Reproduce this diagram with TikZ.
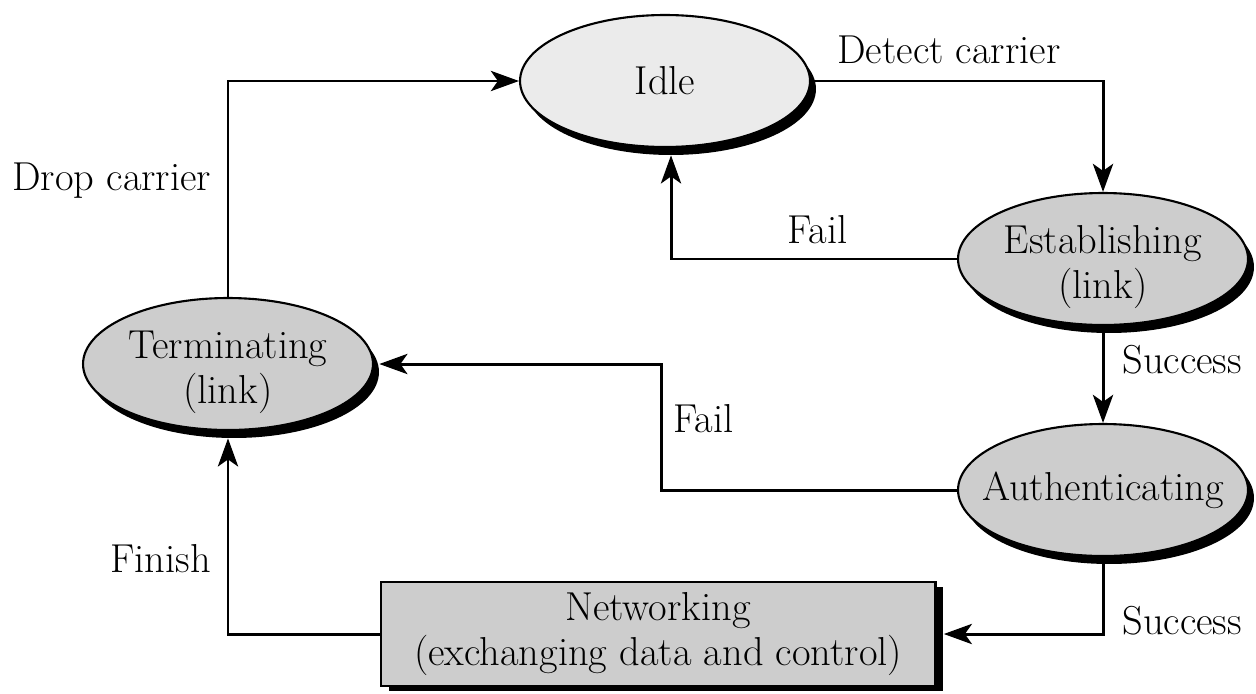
\documentclass[tikz,border=0pt]{standalone}
\usetikzlibrary{shapes.geometric,arrows.meta}
\definecolor{idlegray}{HTML}{EBEBEB}
\definecolor{stategray}{HTML}{CDCDCD}
\newcommand\zw[1]{\makebox[0pt]{#1}}
\newcommand\lowerstrut{\rule{0pt}{25pt}}
\begin{document}
\begin{tikzpicture}[x=0.02cm,y=-0.02cm,
  font=\fontsize{23}{26}\selectfont,
  state/.style={ellipse, draw=black, line width=1.2pt, fill=stategray,
    minimum width=5.8cm, minimum height=2.64cm, inner xsep=0pt, inner ysep=-10pt, align=center},
  stateshadow/.style={ellipse, fill=black, minimum width=5.8cm,
    minimum height=2.64cm, inner sep=0pt},
  boxnode/.style={rectangle, draw=black, line width=1.2pt, fill=stategray,
    minimum width=11.1cm, minimum height=2.08cm, inner sep=0pt, align=center},
  boxshadow/.style={rectangle, fill=black, minimum width=11.1cm,
    minimum height=2.08cm, inner sep=0pt},
  conn/.style={line width=1.7pt, -{Stealth[length=16pt,width=11.5pt,inset=4pt]}},
  lbl/.style={anchor=base west, inner sep=0pt}
]
\useasboundingbox (0,0) rectangle (1256,693);
\fill[white] (0,0) rectangle (1256,693);

% shadows
\node[stateshadow] (idleS)  at (671,89)  {};
\node[stateshadow] (estabS) at (1109,267) {};
\node[stateshadow] (authS)  at (1109,498) {};
\node[stateshadow] (termS)  at (234,372) {};
\node[boxshadow]   (netS)   at (666,639) {};

% states
\node[state, fill=idlegray] (idle) at (665,81) {\zw{Idle}};
\node[state] (estab) at (1103,259) {\lowerstrut\zw{Establishing}\\\zw{(link)}};
\node[state] (auth)  at (1103,490) {\zw{Authenticating}};
\node[state] (term)  at (228,364)  {\lowerstrut\zw{Terminating}\\\zw{(link)}};
\node[boxnode] (net) at (658,634) {Networking\\(exchanging data and control)};

% connectors
\draw[conn] (idle.east) -| (estab.north);
\draw[conn] (estab.west) -| (idleS.south);
\draw[conn] (estabS.south -| estab.south) -- (auth.north);
\draw[conn] (auth.west) -- (661,490) |- (term.east -| termS.east);
\draw[conn] (authS.south -| auth.south) |- (net.east -| netS.east);
\draw[conn] (net.west) -| (term.south |- termS.south);
\draw[conn] (term.north) |- (idle.west);

% labels
\node[lbl] (lDetect)  at (837,63)   {Detect carrier};
\node[lbl] (lFail1)   at (787,243)  {Fail};
\node[lbl] (lSucc1)   at (1122,373) {Success};
\node[lbl] (lFail2)   at (673,432)  {Fail};
\node[lbl] (lSucc2)   at (1122,634) {Success};
\node[lbl] (lFinish)  at (110,572)  {Finish};
\node[lbl] (lDrop)    at (12,190)   {Drop carrier};
\end{tikzpicture}
\end{document}
